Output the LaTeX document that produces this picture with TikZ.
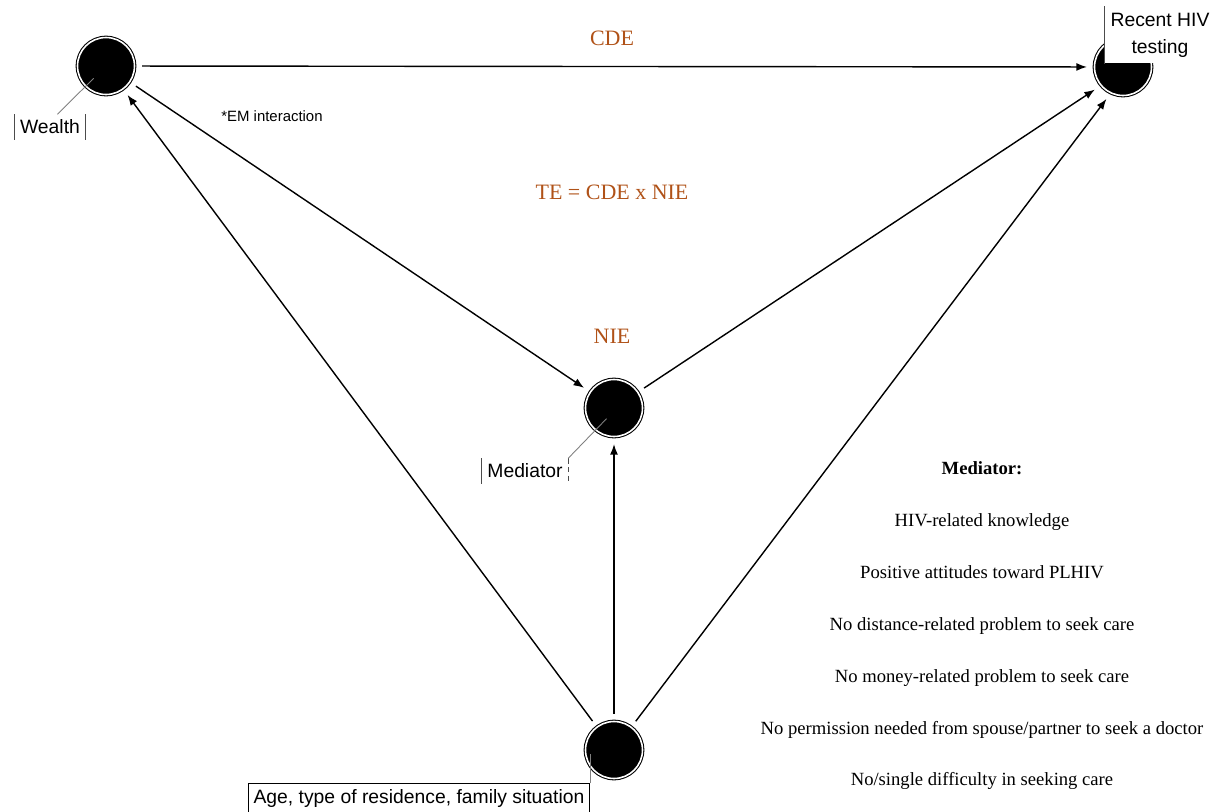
\documentclass[tikz,border=0pt]{standalone}
\usepackage{fontspec}
\setmainfont{Liberation Serif}
\setsansfont{Liberation Sans}
\usetikzlibrary{arrows.meta, calc}
\definecolor{effect}{RGB}{176,82,24}
\tikzset{
  var/.style={circle, fill=black, draw=black, double=white, double distance=0.9pt,
              line width=0.6pt, minimum size=1.14cm, inner sep=0pt},
  lbl/.style={font=\sffamily\fontsize{11}{15.5}\selectfont, inner sep=3pt},
  eff/.style={text=effect, font=\fontsize{12.5}{14}\selectfont},
  arr/.style={-{Latex[length=6pt,width=4.5pt]}, line width=0.8pt, shorten <=4pt, shorten >=4pt},
  tag/.style={gray, line width=0.5pt},
  brk/.style={black!70, line width=0.5pt}
}
\begin{document}
\begin{tikzpicture}[x=0.02cm, y=-0.02cm]
\useasboundingbox (0,0) rectangle (1225,812);

% variables
\node[var] (W) at (106,66) {};
\node[var] (Y) at (1123,67) {};
\node[var] (M) at (614,408) {};
\node[var] (C) at (614,750) {};

% paths
\draw[arr] (W) -- (Y);
\draw[arr] (W) -- (M);
\draw[arr] (M) -- (Y.220);
\draw[arr] (C) -- (W);
\draw[arr] (C) -- (M);
\draw[arr] (C) -- (Y.245);

% effects
\node[eff] (cde) at (612,38) {CDE};
\node[eff] (te) at (612,192) {TE = CDE x NIE};
\node[eff] (nie) at (612,336) {NIE};
\node[font=\sffamily\fontsize{8.5}{10}\selectfont] (em) at (272,116) {*EM interaction};

% labels
\node[lbl] (wl) at (50,127) {Wealth};
\draw[brk] (wl.north west) -- (wl.south west);
\draw[brk] (wl.north east) -- (wl.south east);
\draw[tag] (wl.60) -- ($(W)!0.6!(W.225)$);

\node[lbl] (ml) at (525,471) {Mediator};
\draw[brk] (ml.north west) -- (ml.south west);
\draw[brk, densely dashed] (ml.north east) -- (ml.south east);
\draw[tag] (ml.north east) -- ($(M)!0.45!(M.235)$);

\node[lbl, draw, line width=0.5pt] (al) at (419,798) {Age, type of residence, family situation};
\draw[tag] (al.north east) -- ++(0,-29);

\node[lbl, fill=white, align=center, minimum width=2.2cm, minimum height=1.14cm] (yl) at (1160,35) {Recent HIV\\testing};
\draw[brk] (yl.north west) -- (yl.south west);

% mediator list
\node[align=center, font=\fontsize{10.6}{29.5}\selectfont] (list) at (982,626)
  {\textbf{Mediator:}\\
   HIV-related knowledge\\
   Positive attitudes toward PLHIV\\
   No distance-related problem to seek care\\
   No money-related problem to seek care\\
   No permission needed from spouse/partner to seek a doctor\\
   No/single difficulty in seeking care};
\end{tikzpicture}
\end{document}
